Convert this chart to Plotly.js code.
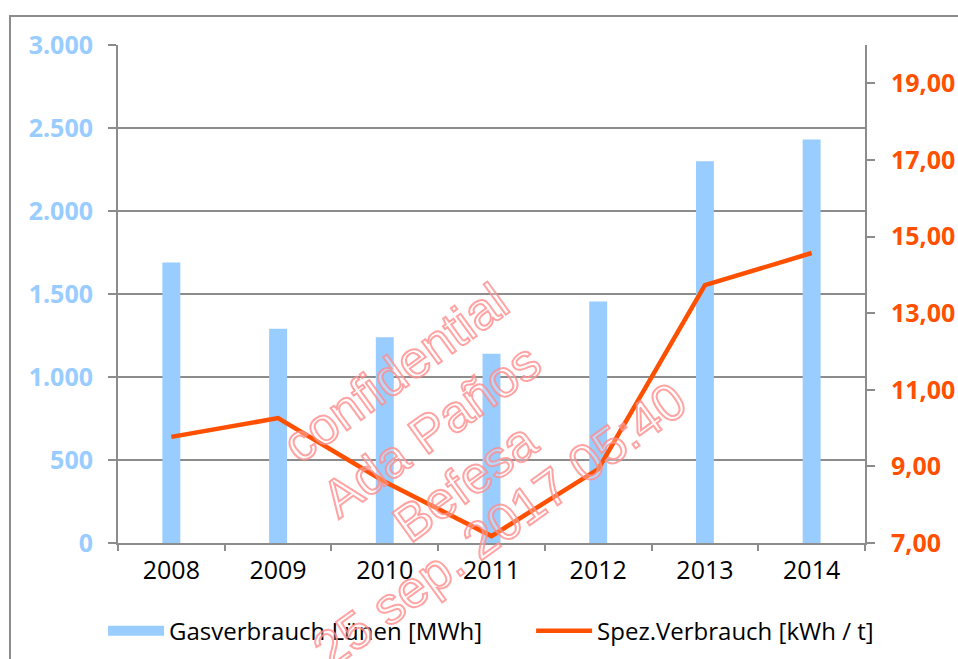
<!DOCTYPE html>
<html>
<head>
<meta charset="utf-8">
<script src="https://cdn.plot.ly/plotly-3.0.1.min.js"></script>
<style>
  html, body { margin: 0; padding: 0; background: #fff; }
  #chart { width: 958px; height: 659px; }
</style>
</head>
<body>
<div id="chart"></div>
<script>
// ---- data ----
const years = ["2008", "2009", "2010", "2011", "2012", "2013", "2014"];
const gasConsumption = [1690, 1290, 1240, 1140, 1455, 2300, 2430];      // MWh
const specificConsumption = [9.77, 10.26, 8.60, 7.18, 8.93, 13.73, 14.57]; // kWh / t
const leftTicks = [0, 500, 1000, 1500, 2000, 2500, 3000];
const rightTicks = [7, 9, 11, 13, 15, 17, 19];
const barName = "Gasverbrauch Lünen [MWh]";
const lineName = "Spez.Verbrauch [kWh / t]";
const watermarkLines = ["confidential", "Ada Paños", "Befesa", "25 sep. 2017 05:40"];
const watermarkPos = [[0.371, 0.341], [0.419, 0.227], [0.4645, 0.1225], [0.511, 0.036]];

const BLUE = "#99CCFF";
const ORANGE = "#FF5000";
const GRID = "#8c8c8c";
const FONT = "Open Sans, sans-serif";

const traces = [
  {
    type: "bar",
    x: years,
    y: gasConsumption,
    name: barName,
    marker: { color: BLUE, line: { width: 0 } },
    width: 0.168,
    yaxis: "y",
    showlegend: false,
    hoverinfo: "skip"
  },
  {
    // legend entry for the bars (wide rectangular swatch as in the reference)
    type: "scatter",
    mode: "lines",
    x: [null],
    y: [null],
    name: barName,
    line: { color: BLUE, width: 12 },
    yaxis: "y",
    legend: "legend",
    hoverinfo: "skip"
  },
  {
    type: "scatter",
    mode: "lines",
    x: years,
    y: specificConsumption,
    name: lineName,
    line: { color: ORANGE, width: 4.5 },
    yaxis: "y2",
    legend: "legend2",
    hoverinfo: "skip"
  }
];

const annotations = watermarkLines.map((t, i) => ({
  text: t,
  xref: "paper", yref: "paper",
  x: watermarkPos[i][0], y: watermarkPos[i][1],
  xanchor: "center", yanchor: "middle",
  showarrow: false,
  textangle: -36,
  font: { family: "Liberation Sans, Arial, sans-serif", size: 52, color: "rgba(255,150,150,0.6)" }
}));

const legendCommon = {
  orientation: "h",
  xanchor: "left",
  y: -0.177, yanchor: "middle",
  font: { family: FONT, size: 24, color: "#000" },
  itemwidth: 56,
  bgcolor: "rgba(0,0,0,0)"
};

const layout = {
  width: 958,
  height: 659,
  margin: { l: 118, r: 93, t: 45, b: 116, autoexpand: false },
  paper_bgcolor: "#ffffff",
  plot_bgcolor: "#ffffff",
  separators: ",.",
  font: { family: FONT, color: "#000" },
  showlegend: true,
  legend: Object.assign({}, legendCommon, { x: -0.02 }),
  legend2: Object.assign({}, legendCommon, { x: 0.553 }),
  xaxis: {
    type: "category",
    showgrid: false,
    showline: true,
    linecolor: GRID,
    linewidth: 2,
    ticks: "outside",
    tickson: "boundaries",
    ticklen: 6,
    tickcolor: GRID,
    tickwidth: 2,
    tickfont: { family: FONT, size: 25, color: "#000" },
    ticklabelstandoff: 4,
    zeroline: false
  },
  yaxis: {
    range: [0, 3000],
    tickvals: leftTicks,
    tickformat: ",.0f",
    showgrid: true,
    gridcolor: GRID,
    gridwidth: 2,
    showline: true,
    linecolor: GRID,
    linewidth: 2,
    ticks: "outside",
    ticklen: 8,
    tickcolor: GRID,
    tickwidth: 2,
    tickfont: { family: FONT, size: 25, color: BLUE, weight: "bold" },
    ticklabelstandoff: 10,
    zeroline: false,
    fixedrange: true
  },
  yaxis2: {
    overlaying: "y",
    side: "right",
    range: [7, 20],
    tickvals: rightTicks,
    tickformat: ".2f",
    showgrid: false,
    showline: true,
    linecolor: GRID,
    linewidth: 2,
    ticks: "outside",
    ticklen: 8,
    tickcolor: GRID,
    tickwidth: 2,
    tickfont: { family: FONT, size: 25, color: ORANGE, weight: "bold" },
    ticklabelstandoff: 11,
    zeroline: false,
    fixedrange: true
  },
  shapes: [
    {
      type: "path",
      xref: "paper", yref: "paper",
      path: "M -0.1446,-0.5 L -0.1446,1.0582 L 1.5,1.0582",
      line: { color: GRID, width: 2 },
      layer: "below"
    }
  ],
  annotations: annotations
};

Plotly.newPlot("chart", traces, layout, { staticPlot: true, displayModeBar: false }).then(() => {
  document.querySelectorAll(".annotation-text").forEach(el => {
    el.style.fill = "rgba(255,255,255,0.45)";
    el.style.stroke = "rgba(255,140,140,0.8)";
    el.style.strokeWidth = "2px";
  });
});
</script>
</body>
</html>
